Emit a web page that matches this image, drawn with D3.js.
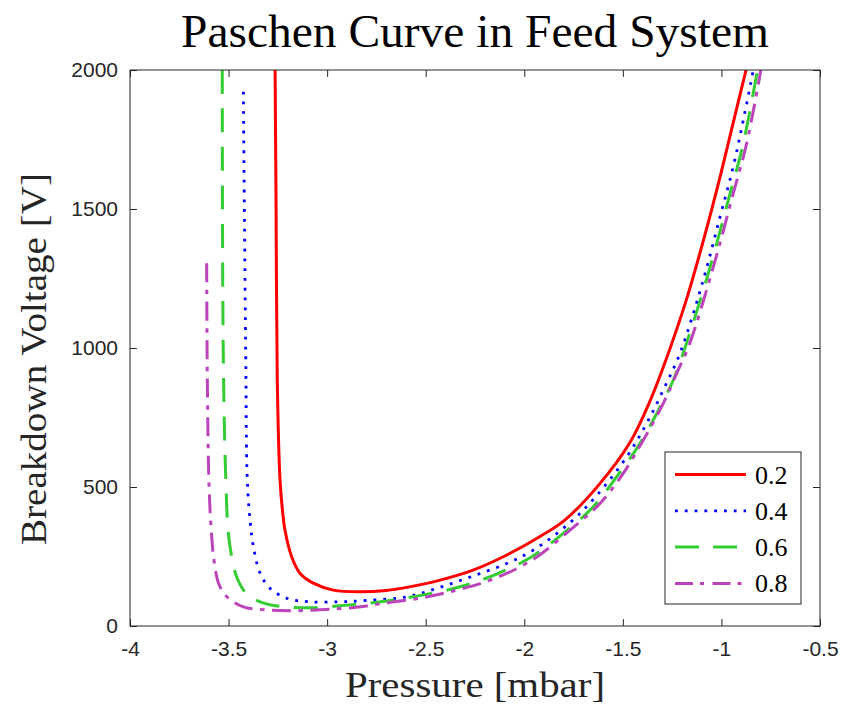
<!DOCTYPE html>
<html>
<head>
<meta charset="utf-8">
<script src="https://cdn.jsdelivr.net/npm/d3@7"></script>
<style>
  html, body { margin: 0; padding: 0; background: #fff; }
  svg { display: block; }
</style>
</head>
<body>
<svg id="chart" width="841" height="708"></svg>
<script>
// Paschen breakdown curves, log10 pressure vs breakdown voltage
const seriesNames = ["0.2", "0.4", "0.6", "0.8"];

const p02 = [-3.264, -3.259, -3.253, -3.239, -3.225, -3.214, -3.180, -3.138, -3.070, -2.969, -2.833, -2.700, -2.596, -2.427, -2.260, -2.104, -1.920, -1.793, -1.625, -1.464, -1.360, -1.276, -1.178, -1.091, -1.011, -0.937, -0.875];
const v02 = [2000, 1500, 885, 525, 405, 345, 249, 190, 154, 129, 123, 128, 139, 165, 201, 250, 322, 382, 505, 660, 813, 968, 1173, 1388, 1604, 1820, 2000];

const p04 = [-3.425, -3.413, -3.405, -3.391, -3.374, -3.340, -3.290, -3.205, -3.087, -2.935, -2.800, -2.596, -2.428, -2.259, -2.089, -1.954, -1.768, -1.633, -1.480, -1.379, -1.295, -1.210, -1.092, -1.007, -0.940, -0.889, -0.838];
const v04 = [1922, 981, 525, 381, 285, 190, 136, 100, 87, 87, 92, 105, 139, 180, 225, 273, 372, 469, 609, 729, 849, 981, 1245, 1472, 1652, 1820, 2000];

const p06 = [-3.532, -3.527, -3.514, -3.501, -3.484, -3.459, -3.417, -3.340, -3.222, -3.087, -2.884, -2.698, -2.512, -2.326, -2.140, -1.962, -1.802, -1.650, -1.531, -1.413, -1.328, -1.244, -1.180, -1.057, -0.956, -0.889, -0.817];
const v06 = [2000, 981, 525, 333, 249, 177, 123, 87, 69, 66, 76, 90, 112, 141, 187, 249, 333, 429, 537, 657, 765, 885, 1011, 1292, 1556, 1736, 2000];

const p08 = [-3.611, -3.608, -3.599, -3.589, -3.574, -3.547, -3.501, -3.425, -3.306, -3.188, -2.985, -2.799, -2.715, -2.529, -2.343, -2.157, -1.954, -1.768, -1.616, -1.498, -1.396, -1.295, -1.227, -1.165, -1.041, -0.940, -0.872, -0.800];
const v08 = [1305, 900, 501, 357, 237, 147, 100, 69, 58, 55, 60, 72, 82, 100, 129, 169, 240, 345, 441, 549, 669, 801, 909, 1008, 1292, 1556, 1736, 2000];

const xTicks = [-4, -3.5, -3, -2.5, -2, -1.5, -1, -0.5];
const xTickLabels = ["-4", "-3.5", "-3", "-2.5", "-2", "-1.5", "-1", "-0.5"];
const yTicks = [0, 500, 1000, 1500, 2000];
const yTickLabels = ["0", "500", "1000", "1500", "2000"];

const styles = [
  { color: "#ff0000", width: 3,   dash: null },
  { color: "#0000ff", width: 2.8, dash: "2.8,7" },
  { color: "#33cc33", width: 3,   dash: "24,14.5" },
  { color: "#bb44bb", width: 3,   dash: "19,7.5,4.5,7.5" }
];
const legendDash = [null, "2.8,7", "24,14", "18,7,4,8.5"];

const series = [
  { name: seriesNames[0], p: p02, v: v02 },
  { name: seriesNames[1], p: p04, v: v04 },
  { name: seriesNames[2], p: p06, v: v06 },
  { name: seriesNames[3], p: p08, v: v08 }
];

const svg = d3.select("#chart");
const plotL = 130, plotR = 820, plotT = 70, plotB = 626;

const x = d3.scaleLinear().domain([-4, -0.5]).range([plotL, plotR]);
const y = d3.scaleLinear().domain([0, 2000]).range([plotB, plotT]);

const serif = "'Liberation Serif', 'Times New Roman', serif";
const sans = "'Liberation Sans Narrow', 'Liberation Sans', Arial, sans-serif";
const axisColor = "#262626";

svg.append("defs").append("clipPath").attr("id", "plotClip")
  .append("rect").attr("x", plotL).attr("y", plotT)
  .attr("width", plotR - plotL).attr("height", plotB - plotT);

// Curves
const line = d3.line()
  .x(d => x(d[0]))
  .y(d => y(d[1]))
  .curve(d3.curveCatmullRom.alpha(0.5));

const plot = svg.append("g").attr("clip-path", "url(#plotClip)");
series.forEach((s, i) => {
  const pts = s.p.map((pv, k) => [pv, s.v[k]]);
  plot.append("path")
    .datum(pts)
    .attr("d", line)
    .attr("fill", "none")
    .attr("stroke", styles[i].color)
    .attr("stroke-width", styles[i].width)
    .attr("stroke-dasharray", styles[i].dash)
    .attr("stroke-linejoin", "round");
});

// Axes: ticks drawn inward on all four sides
const tickLen = 7;
const xBottom = d3.axisBottom(x).tickValues(xTicks)
  .tickFormat((d, i) => xTickLabels[i]).tickSizeInner(-tickLen).tickSizeOuter(0).tickPadding(15);
const xTop = d3.axisTop(x).tickValues(xTicks)
  .tickFormat("").tickSizeInner(-tickLen).tickSizeOuter(0);
const yLeft = d3.axisLeft(y).tickValues(yTicks)
  .tickFormat((d, i) => yTickLabels[i]).tickSizeInner(-tickLen).tickSizeOuter(0).tickPadding(12);
const yRight = d3.axisRight(y).tickValues(yTicks)
  .tickFormat("").tickSizeInner(-tickLen).tickSizeOuter(0);

function styleAxis(g) {
  g.select(".domain").remove();
  g.selectAll(".tick line").attr("stroke", axisColor).attr("stroke-width", 1);
  g.selectAll(".tick text")
    .attr("fill", "#262626")
    .style("font-family", sans)
    .style("font-size", "21px");
}

svg.append("g").attr("transform", `translate(0,${plotB})`).call(xBottom).call(styleAxis);
svg.append("g").attr("transform", `translate(0,${plotT})`).call(xTop).call(styleAxis);
svg.append("g").attr("transform", `translate(${plotL},0)`).call(yLeft).call(styleAxis);
svg.append("g").attr("transform", `translate(${plotR},0)`).call(yRight).call(styleAxis);

// Axes box
svg.append("rect")
  .attr("x", plotL).attr("y", plotT)
  .attr("width", plotR - plotL).attr("height", plotB - plotT)
  .attr("fill", "none").attr("stroke", axisColor).attr("stroke-width", 1);

// Title and axis labels
svg.append("text")
  .attr("x", (plotL + plotR) / 2).attr("y", 47)
  .attr("text-anchor", "middle")
  .attr("textLength", 588).attr("lengthAdjust", "spacingAndGlyphs")
  .style("font-family", serif).style("font-size", "46px")
  .attr("fill", "#000")
  .text("Paschen Curve in Feed System");

svg.append("text")
  .attr("x", (plotL + plotR) / 2).attr("y", 697)
  .attr("text-anchor", "middle")
  .attr("textLength", 260).attr("lengthAdjust", "spacingAndGlyphs")
  .style("font-family", serif).style("font-size", "36px")
  .attr("fill", "#262626")
  .text("Pressure [mbar]");

svg.append("text")
  .attr("transform", `translate(46,${(plotT + plotB) / 2 + 11}) rotate(-90)`)
  .attr("text-anchor", "middle")
  .attr("textLength", 372).attr("lengthAdjust", "spacingAndGlyphs")
  .style("font-family", serif).style("font-size", "36px")
  .attr("fill", "#262626")
  .text("Breakdown Voltage [V]");

// Legend
const lg = svg.append("g");
lg.append("rect")
  .attr("x", 665).attr("y", 452)
  .attr("width", 136).attr("height", 152)
  .attr("fill", "#fff").attr("stroke", axisColor).attr("stroke-width", 1);

series.forEach((s, i) => {
  const cy = 474.5 + i * 36.3;
  lg.append("line")
    .attr("x1", 675).attr("x2", 746).attr("y1", cy).attr("y2", cy)
    .attr("stroke", styles[i].color)
    .attr("stroke-width", styles[i].width)
    .attr("stroke-dasharray", legendDash[i]);
  lg.append("text")
    .attr("x", 755).attr("y", cy + 9)
    .style("font-family", serif).style("font-size", "26px")
    .attr("fill", "#000")
    .text(s.name);
});
</script>
</body>
</html>
